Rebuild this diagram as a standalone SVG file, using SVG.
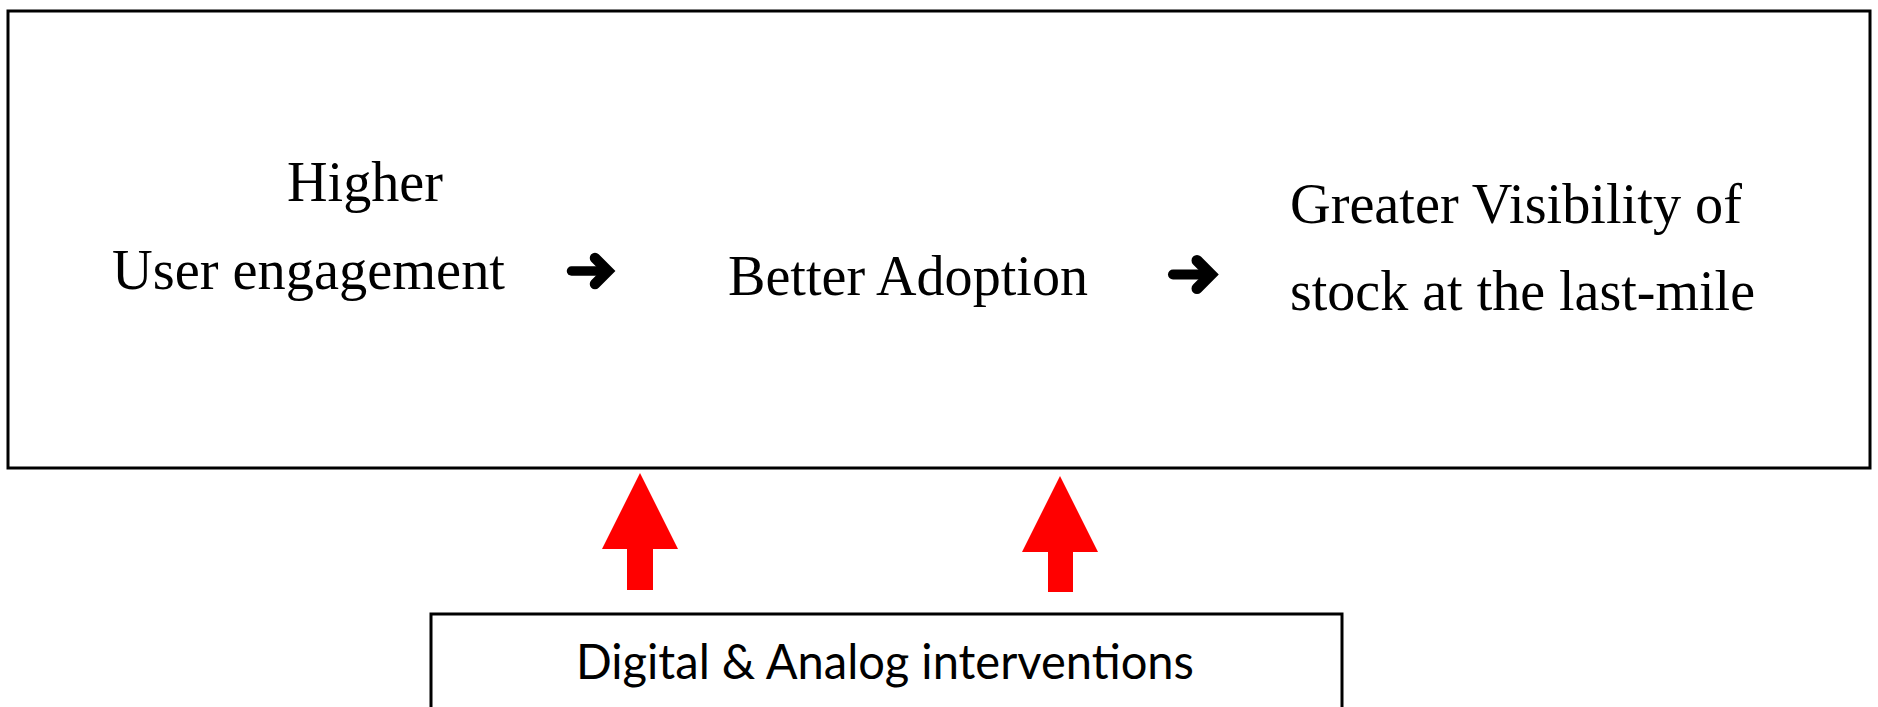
<svg xmlns="http://www.w3.org/2000/svg" width="1878" height="707" viewBox="0 0 1878 707">
  <style>
    .box { fill: #ffffff; stroke: #000000; stroke-width: 3; }
    .serif { font-family: "Liberation Serif", "Times New Roman", serif; font-size: 57.5px; fill: #000000; }
    .sans { font-family: Lato, "Open Sans", sans-serif; font-size: 48px; fill: #000000; }
    .flow { fill: none; stroke: #000000; stroke-linecap: round; stroke-linejoin: miter; }
    .up { fill: #ff0000; stroke: none; }
  </style>
  <rect x="0" y="0" width="1878" height="707" fill="#ffffff"/>
  <g id="main-box">
    <rect class="box" x="8" y="11" width="1862" height="457"/>
  </g>
  <g id="node-engagement">
    <text class="serif" x="287" y="201" textLength="156" lengthAdjust="spacingAndGlyphs">Higher</text>
    <text class="serif" x="112" y="289" textLength="393" lengthAdjust="spacingAndGlyphs">User engagement</text>
  </g>
  <g id="node-adoption">
    <text class="serif" x="728" y="295" textLength="360" lengthAdjust="spacingAndGlyphs">Better Adoption</text>
  </g>
  <g id="node-visibility">
    <text class="serif" x="1290" y="223" textLength="452" lengthAdjust="spacingAndGlyphs">Greater Visibility of</text>
    <text class="serif" x="1290" y="310" textLength="465" lengthAdjust="spacingAndGlyphs">stock at the last-mile</text>
  </g>
  <g id="node-interventions">
    <rect class="box" x="431" y="614" width="911" height="120" stroke-width="2.5"/>
    <text class="sans" x="576" y="679" textLength="618" lengthAdjust="spacingAndGlyphs">Digital &amp; Analog interventions</text>
  </g>
  <g id="connectors">
    <path class="flow" stroke-width="9.5" d="M571.5 271 H605"/>
    <path class="flow" stroke-width="10.5" d="M595 258 L608 271 L595 284"/>
    <path class="flow" stroke-width="10" d="M1173 274.5 H1207"/>
    <path class="flow" stroke-width="11" d="M1197 260.5 L1211 274.5 L1197 288.5"/>
    <polygon class="up" points="640,473 678,549 653,549 653,590 627,590 627,549 602,549"/>
    <polygon class="up" points="1060,476 1098,552 1073,552 1073,592 1048,592 1048,552 1022,552"/>
  </g>
</svg>
